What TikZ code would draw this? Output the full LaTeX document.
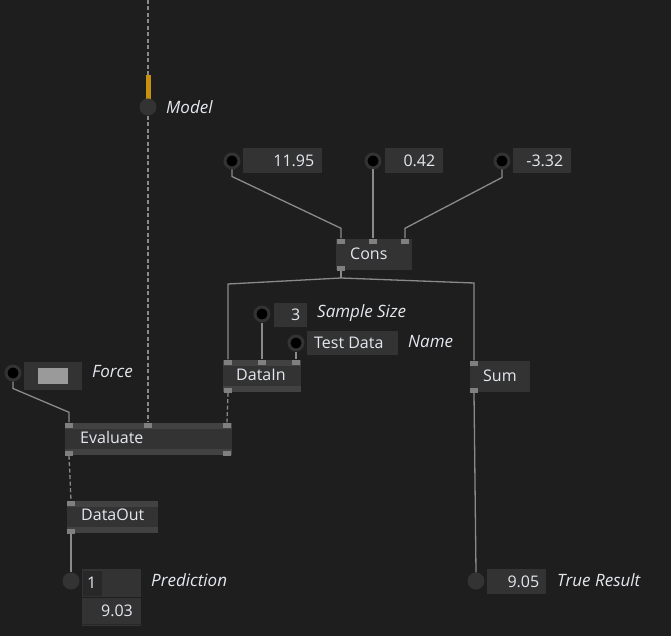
\documentclass[tikz,border=0pt]{standalone}
\usepackage{fontspec}
\setmainfont{Open Sans}
\usetikzlibrary{calc}
\definecolor{bg}{HTML}{1E1E1E}
\definecolor{nodefill}{HTML}{333333}
\definecolor{barc}{HTML}{424242}
\definecolor{pinc}{HTML}{808080}
\definecolor{txt}{HTML}{E4E8EE}
\definecolor{wirec}{HTML}{8A8A8A}
\definecolor{orangec}{HTML}{C8900F}
\definecolor{swatch}{HTML}{9A9A9A}
\definecolor{darkbox}{HTML}{282828}
\tikzset{
  box/.style={fill=nodefill, draw=none, inner sep=0pt, anchor=north west},
  bar/.style={fill=barc, draw=none, inner sep=0pt, anchor=north west, minimum height=6pt},
  pin/.style={fill=pinc, draw=none, inner sep=0pt, minimum width=8pt, minimum height=5pt},
  wire/.style={draw=wirec, line width=1.3pt},
  dwire/.style={draw=wirec, line width=1.3pt, dash pattern=on 4pt off 2.5pt},
  incirc/.style={circle, fill=black, draw=nodefill, line width=3pt, minimum size=14pt, inner sep=0pt},
  outcirc/.style={circle, fill=nodefill, draw=none, minimum size=17pt, inner sep=0pt},
  lbl/.style={text=txt, font=\fontsize{16}{19}\selectfont, inner sep=0pt, anchor=west},
  ilbl/.style={text=txt, font=\fontsize{17}{20}\selectfont\itshape, inner sep=0pt, anchor=west},
  rlbl/.style={text=txt, font=\fontsize{16}{19}\selectfont, inner sep=0pt, anchor=east},
}
\begin{document}
\begin{tikzpicture}[x=1pt,y=-1pt]
\fill[bg] (0,0) rectangle (671,636);
\useasboundingbox (0,0) rectangle (671,636);

% ---------- Model ----------
\coordinate (mtop) at (148,0);
\node[fill=orangec, inner sep=0pt, minimum width=5pt, minimum height=25pt, anchor=north] (mbar) at (148,75) {};
\node[outcirc] (model) at (148,107) {};
\node[ilbl] (modell) at (166,107) {Model};
\draw[dwire] (mtop) -- (mbar.north);

% ---------- Cons inputs ----------
\node[incirc] (c1) at (232,161) {};
\node[box, minimum width=79pt, minimum height=25pt] (v1) at (243,148) {};
\node[rlbl] at ($(v1.east)+(-8,0)$) {11.95};
\node[incirc] (c2) at (373,161) {};
\node[box, minimum width=58pt, minimum height=25pt] (v2) at (385,148) {};
\node[rlbl] at ($(v2.east)+(-8,0)$) {0.42};
\node[incirc] (c3) at (502,161) {};
\node[box, minimum width=58pt, minimum height=25pt] (v3) at (513,148) {};
\node[rlbl] at ($(v3.east)+(-8,0)$) {-3.32};

% ---------- Cons ----------
\node[box, minimum width=76pt, minimum height=31pt] (cons) at (336,239) {};
\node[lbl] at (350,254) {Cons};
\node[pin] (cp1) at (341,241) {};
\node[pin] (cp2) at (373,241) {};
\node[pin] (cp3) at (405,241) {};
\node[pin] (cpo) at (341,268) {};

\draw[wire] (c1.south) -- ++(0,7) -- ($(cp1.north)+(0,-10)$) -- (cp1.north);
\draw[wire] (c2.south) -- (cp2.north);
\draw[wire] (c3.south) -- ++(0,8) -- ($(cp3.north)+(0,-10)$) -- (cp3.north);

% ---------- DataIn ----------
\node[box, minimum width=78pt, minimum height=32pt] (datain) at (223,360) {};
\node[bar, minimum width=78pt] at (223,360) {};
\node[bar, minimum width=78pt] at (223,386) {};
\node[lbl] at (236,375) {DataIn};
\node[pin] (dp1) at (228,362) {};
\node[pin] (dp2) at (262,362) {};
\node[pin] (dp3) at (296,362) {};
\node[pin] (dpo) at (228,390) {};

\node[incirc] (ss) at (262,314) {};
\node[box, minimum width=33pt, minimum height=24pt] (ssv) at (274,303) {};
\node[rlbl] at ($(ssv.east)+(-7,0)$) {3};
\node[ilbl] at (317,313) {Sample Size};
\node[incirc] (nm) at (296,343) {};
\node[box, minimum width=91pt, minimum height=24pt] (nmv) at (307,331) {};
\node[lbl] at (314,343) {Test Data};
\node[ilbl] at (408,342) {Name};
\draw[wire] (ss.south) -- (dp2.north);
\draw[wire] (nm.south) -- (dp3.north);

% ---------- Sum ----------
\node[box, minimum width=60pt, minimum height=31pt] (sum) at (470,361) {};
\node[lbl] at (483,376) {Sum};
\node[pin] (sp1) at (474,363) {};
\node[pin] (spo) at (474,390) {};

\coordinate (split) at (341,278);
\draw[wire] (cpo.south) -- (split);
\draw[wire] (split) -- (228,284) -- (dp1.north);
\draw[wire] (split) -- (474,283) -- (sp1.north);

% ---------- Force ----------
\node[incirc] (fc) at (13,373) {};
\node[box, minimum width=58pt, minimum height=28pt] (fv) at (24,362) {};
\node[fill=swatch, inner sep=0pt, minimum width=30pt, minimum height=16pt] at (53,376) {};
\node[ilbl] at (92,372) {Force};

% ---------- Evaluate ----------
\node[box, minimum width=167pt, minimum height=32pt] (eval) at (65,423) {};
\node[bar, minimum width=167pt] at (65,423) {};
\node[bar, minimum width=167pt] at (65,449) {};
\node[lbl] at (80,437) {Evaluate};
\node[pin] (ep1) at (69,425) {};
\node[pin] (ep2) at (148,425) {};
\node[pin] (ep3) at (227,425) {};
\node[pin] (eo1) at (69,453) {};
\node[pin] (eo2) at (227,453) {};

\draw[wire] (fc.south) -- ++(0,7) -- ($(ep1.north)+(0,-10)$) -- (ep1.north);
\draw[dwire] (model.south) -- (ep2.north);
\draw[dwire] (dpo.south) -- (ep3.north);

% ---------- DataOut ----------
\node[box, minimum width=91pt, minimum height=32pt] (dout) at (67,501) {};
\node[bar, minimum width=91pt] at (67,501) {};
\node[bar, minimum width=91pt] at (67,527) {};
\node[lbl] at (81,515) {DataOut};
\node[pin] (op1) at (71,503) {};
\node[pin] (opo) at (71,531) {};
\draw[dwire] (eo1.south) -- (op1.north);

% ---------- Prediction ----------
\node[outcirc] (pc) at (71,581) {};
\node[box, minimum width=59pt, minimum height=57pt] (pv) at (82,569) {};
\node[fill=darkbox, inner sep=0pt, anchor=north west, minimum width=19pt, minimum height=25pt] (pidx) at (83,571) {};
\node[lbl] at (87,583) {1};
\draw[bg, line width=1pt] (82,597.5) -- (141,597.5);
\draw[darkbox, line width=1.5pt] (82,624.5) -- (141,624.5);
\node[rlbl] at (133,611) {9.03};
\node[ilbl] at (151,580) {Prediction};
\draw[wire] (opo.south) -- (pc.north);

% ---------- True Result ----------
\node[outcirc] (tc) at (476,581) {};
\node[box, minimum width=59pt, minimum height=25pt] (tv) at (487,569) {};
\node[rlbl] at ($(tv.east)+(-7,0)$) {9.05};
\node[ilbl] at (557,580) {True Result};
\draw[wire] (spo.south) -- (tc.north);
\end{tikzpicture}
\end{document}
